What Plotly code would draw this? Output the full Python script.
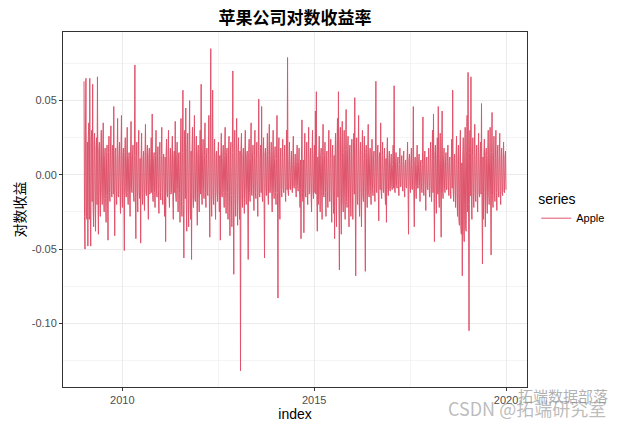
import pandas as pd
import plotly.graph_objects as go

# ---- data (daily log returns of Apple, in units of 0.001) ----
series_name = "Apple"
start_date = "2009-01-02"
end_date = "2019-12-31"

# readings at the peaks of each stretch
peaks_2009 = [63, -50, 65, -30, -48, 35, 65, -48, 30, 61, -35, 28, -38, 25, 66, -40, 22, -28, 30, -20,
              35, -25, 18, -32, 20, -44, 26, -18, 33, -15, 20, 46, -41, 18, -20, 38, -15, 22, -26, 40]
peaks_2010 = [-22, 18, -51, 25, -15, 32, -20, 15, -28, 36, -12, 20, -18, 74, -43, 22, -25, 30, -16, -46,
              28, -20, 16, -24, 34, -14, 20, -30, 18, -12, 25, 41, -18, 15, -22, 30, -15, 19, -26, 22]
peaks_2011 = [-17, 32, -20, 14, -28, -45, 24, -15, 30, -22, 18, -12, 26, -30, 16, 36, -18, 22, -25, 15,
              -32, 38, -28, 57, -56, 30, 45, -38, 28, -35, 50, -30, -57, 32, -22, 40, -18, 26, -34, 20]
peaks_2012 = [-25, 30, 61, -20, 24, -16, 35, -22, 18, -14, 40, -42, 85, -28, 57, -20, 24, -30, 16, -18,
              22, -25, -44, 28, -15, 20, -22, 32, -26, 18, -30, 26, -41, 22, -35, 70, -67, 30, -28, 38]
peaks_2013 = [-34, 25, -30, -132, 28, -22, 18, -26, 30, -20, 16, -57, 24, -18, 35, -14, 20, -24, 30, -16,
              22, -28, 51, -15, 20, 46, -18, 25, -56, 18, -14, 28, -20, 34, -12, 22, -25, 30, -16, 19]
peaks_2014 = [-20, 40, -83, 25, -30, 18, -15, 24, -12, 20, -18, 30, 79, -14, 22, -10, 16, -12, 26, -9,
              14, -15, 20, -11, 18, -22, -43, 37, -18, -39, 28, -15, 22, -20, 32, -12, 18, -25, 30, -16]
peaks_2015 = [20, 43, 56, -38, -20, 26, -25, 18, -30, 34, -15, 22, -28, 16, -22, 30, -18, 24, -32, 20,
              -26, -43, 28, -35, 38, 56, -64, 32, -40, 36, -25, 30, -30, 44, -22, 26, -35, 20, -28, 24]
peaks_2016 = [-30, 28, 52, -68, 25, -20, 40, -28, 22, -35, 30, -18, 26, -65, 20, -22, 34, -15, 18, -20,
              24, -14, 16, -18, 63, -12, 20, -31, 15, 35, -16, 22, -12, 18, -20, -32, 25, -14, 16, -11]
peaks_2017 = [14, -10, 20, 60, -12, 15, -9, 12, -14, 18, -8, 13, -11, 16, -15, 10, -9, 22, -40, 14,
              -12, 18, -10, 46, -35, 12, -16, 20, -9, 14, -18, 10, -12, 39, -14, 16, -24, 12, -10, 18]
peaks_2018 = [-15, 22, -18, 30, 41, -45, 20, -26, 25, 46, -22, 28, -42, 43, -16, 18, -12, 15, -10, 20,
              -14, 12, -16, 24, 57, -18, 14, -22, 26, -28, 20, -34, 30, -40, -68, 25, -45, 32, -38, 40]
peaks_2019 = [69, -105, 30, 66, -30, 25, -22, 34, -18, 20, -25, 28, -15, 22, 48, -60, -30, 24, -35, 18,
              -26, 30, -20, 32, -54, 42, -22, 26, -18, 30, -24, 20, -15, 28, -20, 18, -14, 22, -12, 16]

# readings inside the dense core between those peaks
core_2009 = [-28, 30, -25, 22, 26, -30, -20, 24, -18, -22, 20, -16, 18, -20, -15, 17, -14, 16, -12, 14,
             -15, 13, -16, 12, -14, 15, -12, 14, -11, 16, -13, -12, 15, -10, 13, -14, 12, -11, 14, -12]
core_2010 = [12, -14, 15, -11, 13, -12, 10, -13, 14, -10, 12, -11, 13, -15, 12, -10, 14, -12, 11, 13,
             -12, 10, -14, 12, -11, 13, -10, 12, -13, 11, -12, -14, 10, -12, 13, -11, 12, -10, 13, -12]
core_2011 = [13, -12, 11, -14, 12, 14, -11, 13, -12, 10, -13, 12, -14, 11, -12, -13, 12, -10, 14, -12,
             16, -18, 15, -20, 18, -16, -20, 18, -15, 17, -19, 16, 18, -15, 14, -16, 12, -13, 14, -12]
core_2012 = [12, -13, -11, 12, -10, 13, -12, 11, -13, 10, -12, 14, -13, 12, -14, 11, -12, 13, -11, 12,
             -10, 13, 12, -14, 11, -12, 13, -11, 15, -12, 14, -13, 16, -14, 15, -16, 18, -14, 15, -13]
core_2013 = [15, -14, 16, 18, -15, 13, -12, 14, -11, 12, -13, 15, -12, 11, -13, 12, -10, 13, -12, 11,
             -12, 14, -13, 11, -12, -13, 12, -11, 14, -10, 12, -11, 13, -12, 10, -11, 12, -10, 11, -12]
core_2014 = [11, -12, 14, -11, 12, -10, 11, -9, 10, -8, 9, -10, -11, 8, -9, 7, -8, 9, -8, 7,
             -8, 9, -7, 8, -9, 10, 11, -12, 10, 12, -11, 10, -12, 11, -13, 10, -12, 13, -11, 12]
core_2015 = [-12, -13, -14, 12, 11, -13, 12, -11, 13, -14, 10, -12, 13, -11, 12, -13, 11, -12, 14, -11,
             13, 15, -14, 16, -15, -18, 20, -16, 18, -17, 15, -16, 17, -18, 14, -15, 16, -13, 14, -12]
core_2016 = [14, -13, -15, 16, -13, 12, -14, 13, -12, 14, -13, 11, -12, 15, -11, 12, -13, 10, -11, 12,
             -10, 11, -10, 12, -11, 10, -11, 12, -10, -11, 9, -10, 9, -10, 11, 12, -10, 9, -10, 8]
core_2017 = [-8, 7, -9, -10, 8, -7, 8, -9, 7, -8, 9, -7, 8, -9, 7, -8, 9, -8, 10, -7,
             8, -9, 7, -10, 9, -8, 7, -9, 8, -7, 9, -8, 7, -9, 8, -7, 9, -8, 7, -9]
core_2018 = [9, -10, 11, -12, -13, 14, -11, 12, -13, -12, 11, -13, 14, -12, 10, -9, 8, -10, 9, -8,
             9, -10, 8, -9, -11, 10, -9, 11, -12, 10, -30, 12, -35, 8, 10, -38, 12, -36, 14, -25]
core_2019 = [-20, 15, -14, -16, 13, -12, 14, -13, 12, -14, 13, -12, 11, -13, -14, 12, 13, -12, 14, -11,
             13, -12, 14, -13, 15, -14, 12, -13, 11, -12, 13, -11, 12, -13, 11, -12, 10, -11, 12, -10]

peaks = (peaks_2009 + peaks_2010 + peaks_2011 + peaks_2012 + peaks_2013 + peaks_2014 +
         peaks_2015 + peaks_2016 + peaks_2017 + peaks_2018 + peaks_2019)
core = (core_2009 + core_2010 + core_2011 + core_2012 + core_2013 + core_2014 +
        core_2015 + core_2016 + core_2017 + core_2018 + core_2019)
returns = [v / 1000 for pair in zip(peaks, core) for v in pair]
dates = pd.date_range(start_date, end_date, periods=len(returns))

y_ticks = [-0.10, -0.05, 0.00, 0.05]
y_tick_labels = ["-0.10", "-0.05", "0.00", "0.05"]
y_minor = [-0.125, -0.075, -0.025, 0.025, 0.075]
x_ticks = ["2010-01-01", "2015-01-01", "2020-01-01"]
x_tick_labels = ["2010", "2015", "2020"]
x_minor = ["2012-07-02", "2017-07-02"]

title_text = "苹果公司对数收益率"
x_title = "index"
y_title = "对数收益"
legend_title = "series"
watermark_1 = "拓端数据部落"
watermark_2 = "CSDN @拓端研究室"

# ---- figure ----
fig = go.Figure()
fig.add_trace(go.Scatter(
    x=dates, y=returns, mode="lines", name=series_name,
    line=dict(color="#DF536B", width=1.0, simplify=False),
    showlegend=True,
))

axis_font = dict(family="Liberation Sans, Arial, sans-serif", size=11, color="#4D4D4D")

fig.update_layout(
    width=616, height=424,
    margin=dict(l=52, r=97, t=24, b=45),
    paper_bgcolor="white", plot_bgcolor="white",
    title=dict(text="<b>" + title_text + "</b>", x=0.5, xref="paper", xanchor="center",
               y=1 - 10 / 424, yref="container", yanchor="middle",
               font=dict(family="Noto Sans CJK SC", size=17, color="black")),
    xaxis=dict(
        type="date",
        range=["2008-06-16", "2020-07-18"],
        tickvals=x_ticks, ticktext=x_tick_labels,
        tickfont=axis_font, ticks="outside", ticklen=3, tickcolor="#333333", tickwidth=1,
        showgrid=True, gridcolor="#EBEBEB", gridwidth=1,
        minor=dict(tickvals=x_minor, showgrid=True, gridcolor="#F4F4F4", gridwidth=0.6, ticks=""),
        showline=True, linecolor="#333333", linewidth=1, mirror=True,
        zeroline=False,
        title=dict(text=x_title, standoff=1,
                   font=dict(family="Liberation Sans, Arial, sans-serif", size=14, color="black")),
    ),
    yaxis=dict(
        range=[-0.1429, 0.0962],
        tickvals=y_ticks, ticktext=y_tick_labels,
        tickfont=axis_font, ticks="outside", ticklen=3, tickcolor="#333333", tickwidth=1,
        showgrid=True, gridcolor="#EBEBEB", gridwidth=1,
        minor=dict(tickvals=y_minor, showgrid=True, gridcolor="#F4F4F4", gridwidth=0.6, ticks=""),
        showline=True, linecolor="#333333", linewidth=1, mirror=True,
        zeroline=False,
        title=dict(text=y_title, standoff=2,
                   font=dict(family="Noto Sans CJK SC", size=14, color="black")),
    ),
    legend=dict(
        title=dict(text=legend_title,
                   font=dict(family="Liberation Sans, Arial, sans-serif", size=14, color="black")),
        font=dict(family="Liberation Sans, Arial, sans-serif", size=11, color="black"),
        x=1.02, xanchor="left", y=0.5, yanchor="middle",
        bgcolor="rgba(0,0,0,0)", itemwidth=30,
    ),
)

# watermark text seen over the lower-right corner of the picture
fig.add_annotation(text=watermark_1, xref="paper", yref="paper", x=1.077, y=-0.025,
                   xanchor="center", yanchor="middle", showarrow=False,
                   font=dict(family="Noto Sans CJK SC", size=15, color="rgba(110,110,110,0.55)"))
fig.add_annotation(text=watermark_2, xref="paper", yref="paper", x=1.0, y=-0.06,
                   xanchor="center", yanchor="middle", showarrow=False,
                   font=dict(family="Noto Sans CJK SC", size=18, color="rgba(130,130,130,0.55)"))

fig.write_html("out.html")
